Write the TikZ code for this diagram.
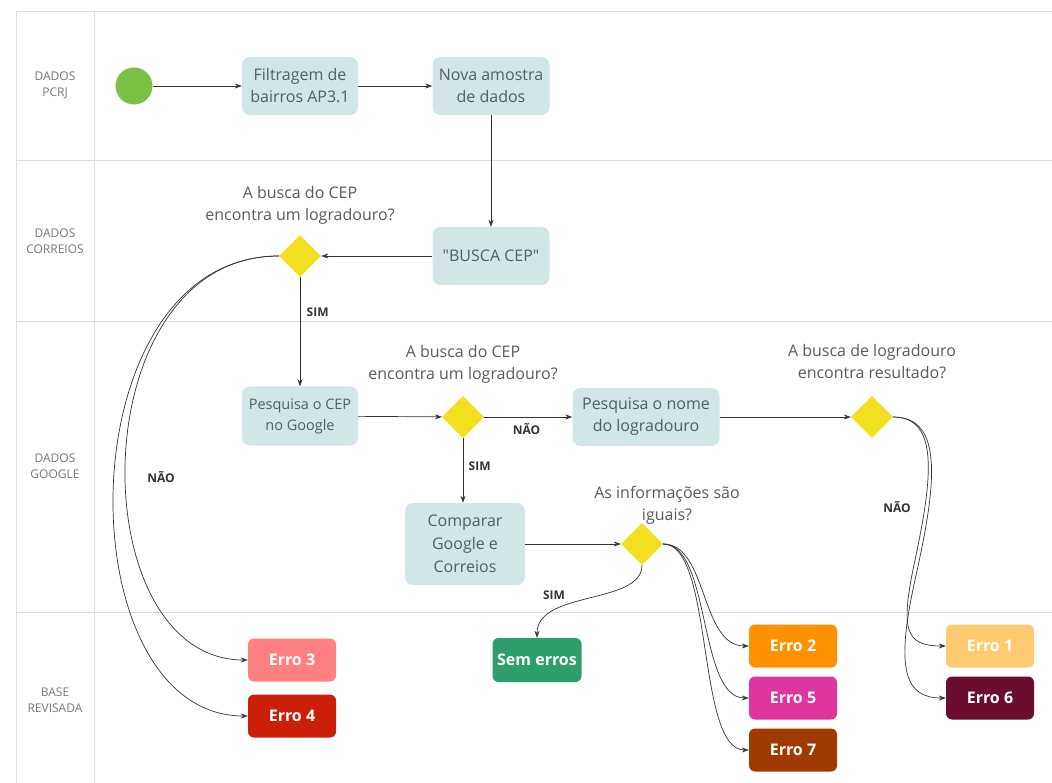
\documentclass[tikz,border=0pt]{standalone}
\usepackage{fontspec}
\setmainfont{Open Sans}[Ligatures=TeXOff]
\usetikzlibrary{arrows.meta,shapes.geometric}
\definecolor{laneline}{HTML}{DEDEDE}
\definecolor{procfill}{HTML}{D2E6E8}
\definecolor{proctext}{HTML}{4E6064}
\definecolor{lbltext}{HTML}{5A5A5A}
\definecolor{lanetext}{HTML}{787878}
\definecolor{decfill}{HTML}{F2DF1D}
\definecolor{startfill}{HTML}{7BC143}
\definecolor{linecol}{HTML}{333333}
\definecolor{cerr1}{HTML}{FFCA70}
\definecolor{cerr2}{HTML}{FF9100}
\definecolor{cerr3}{HTML}{FF8080}
\definecolor{cerr4}{HTML}{CC1F0A}
\definecolor{cerr5}{HTML}{E0359E}
\definecolor{cerr6}{HTML}{6A0D2E}
\definecolor{cerr7}{HTML}{A13A00}
\definecolor{csem}{HTML}{2E9E6A}
\begin{document}
\begin{tikzpicture}[x=1pt,y=-1pt,
  procbox/.style={rectangle,fill=procfill,rounded corners=8pt,text=proctext,align=center,
    font=\fontsize{16}{22}\selectfont,inner sep=0pt,minimum height=58pt},
  decbox/.style={diamond,fill=decfill,minimum width=42pt,minimum height=42pt,inner sep=0pt},
  errbox/.style={rectangle,rounded corners=6pt,minimum width=88pt,minimum height=43pt,
    font=\bfseries\fontsize{16}{18}\selectfont,text=white,inner sep=0pt},
  qlbl/.style={text=lbltext,align=center,font=\fontsize{16}{22}\selectfont},
  lanelbl/.style={text=lanetext,align=center,font=\fontsize{12}{16}\selectfont},
  yn/.style={font=\bfseries\fontsize{12}{14}\selectfont,text=black!80},
  arr/.style={draw=linecol,line width=0.7pt,-{Stealth[length=7pt,width=5pt]}},
  lanerule/.style={draw=laneline,line width=1pt},
]
\useasboundingbox (0,0) rectangle (1052,783);
% lanes
\draw[lanerule] (16,12) -- (1052,12);
\draw[lanerule] (16,12) -- (16,783);
\draw[lanerule] (94,12) -- (94,783);
\draw[lanerule] (16,161) -- (1052,161);
\draw[lanerule] (16,322) -- (1052,322);
\draw[lanerule] (16,612) -- (1052,612);
\node[lanelbl] (l1) at (55,85) {DADOS\\PCRJ};
\node[lanelbl] (l2) at (55,241) {DADOS\\CORREIOS};
\node[lanelbl] (l3) at (55,466) {DADOS\\GOOGLE};
\node[lanelbl] (l4) at (55,700) {BASE\\REVISADA};
% nodes
\node[circle,fill=startfill,minimum size=37pt,inner sep=0pt] (start) at (134,86) {};
\node[procbox,minimum width=116pt] (f1) at (300,86) {Filtragem de\\bairros AP3.1};
\node[procbox,minimum width=117pt] (f2) at (491,86) {Nova amostra\\de dados};
\node[procbox,minimum width=117pt] (bc) at (491,256) {"BUSCA CEP"};
\node[decbox] (d1) at (300,256) {};
\node[qlbl] (q1) at (300,205) {A busca do CEP\\encontra um logradouro?};
\node[procbox,minimum width=116pt,minimum height=59pt,font=\fontsize{14.5}{21}\selectfont] (p1) at (300,416) {Pesquisa o CEP\\no Google};
\node[decbox] (d2) at (463,417) {};
\node[qlbl] (q2) at (463,364) {A busca do CEP\\encontra um logradouro?};
\node[procbox,minimum width=147pt] (p2) at (646,417) {Pesquisa o nome\\do logradouro};
\node[decbox] (d4) at (872,417) {};
\node[qlbl] (q4) at (872,362) {A busca de logradouro\\encontra resultado?};
\node[procbox,minimum width=120pt,minimum height=82pt,font=\fontsize{16}{23}\selectfont] (cmp) at (465,544) {Comparar\\Google e\\Correios};
\node[decbox] (d3) at (642,544) {};
\node[qlbl] (q3) at (667,505) {As informações são\\iguais?};
\node[errbox,fill=csem,minimum width=89pt,minimum height=44pt] (sem) at (537,660) {Sem erros};
\node[errbox,fill=cerr3] (e3) at (292,660) {Erro 3};
\node[errbox,fill=cerr4] (e4) at (292,716) {Erro 4};
\node[errbox,fill=cerr2] (e2) at (793,646) {Erro 2};
\node[errbox,fill=cerr5] (e5) at (793,698) {Erro 5};
\node[errbox,fill=cerr7] (e7) at (793,750) {Erro 7};
\node[errbox,fill=cerr1] (e1) at (990,646) {Erro 1};
\node[errbox,fill=cerr6] (e6) at (990,698) {Erro 6};
% straight connectors
\draw[arr] (start) -- (f1);
\draw[arr] (f1) -- (f2);
\draw[arr] (f2) -- (bc);
\draw[arr] (bc) -- (d1);
\draw[arr] (d1.south) -- node[yn,pos=0.32,right=3pt] (s1) {SIM} (p1.north);
\draw[arr] (p1) -- (d2);
\draw[arr] (d2.east) -- node[yn,pos=0.48,below=3pt] (n2) {NÃO} (p2.west);
\draw[arr] (d2.south) -- node[yn,pos=0.43,right=2pt] (s2) {SIM} (cmp.north -| d2.south);
\draw[arr] (p2) -- (d4);
\draw[arr] (cmp.east) -- (d3.west);
% curved connectors
\draw[arr] (d3.south) .. controls (642,605) and (537,590) .. (sem.north);
\node[yn] (s3) at (554,595) {SIM};
\draw[arr] (d1.west) .. controls (80,256) and (80,660) .. (e3.west);
\draw[arr] (d1.west) .. controls (64,256) and (64,716) .. (e4.west);
\node[yn] (n1) at (161,477) {NÃO};
\draw[arr] (d3.east) .. controls (708,544) and (700,646) .. (e2.west);
\draw[arr] (d3.east) .. controls (711,544) and (698,698) .. (e5.west);
\draw[arr] (d3.east) .. controls (714,544) and (696,750) .. (e7.west);
\draw[arr] (d4.east) .. controls (940,417) and (932,480) .. (915,560) .. controls (900,630) and (905,646) .. (e1.west);
\draw[arr] (d4.east) .. controls (946,417) and (935,490) .. (915,580) .. controls (895,670) and (905,698) .. (e6.west);
\node[yn] (n4) at (897,507) {NÃO};
\end{tikzpicture}
\end{document}
